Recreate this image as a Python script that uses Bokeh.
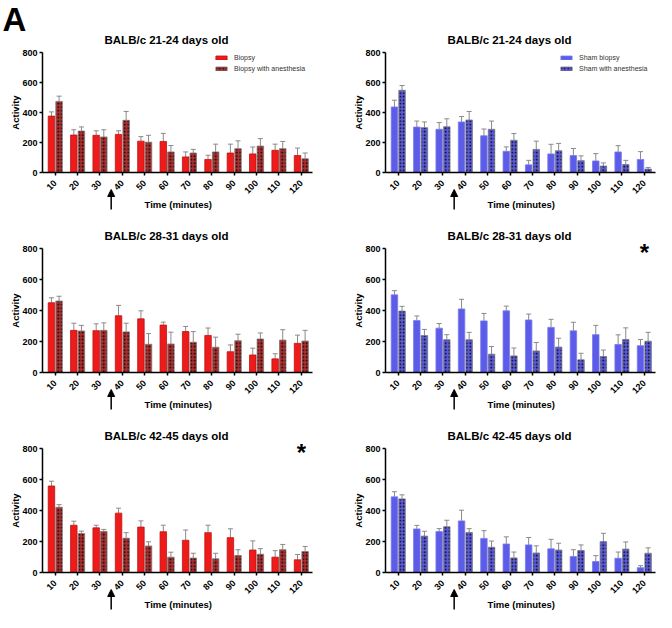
import math
from bokeh.plotting import figure
from bokeh.layouts import column, row
from bokeh.models import (ColumnDataSource, Whisker, TeeHead, Arrow, NormalHead,
                          Label, Legend, LegendItem, FixedTicker, Range1d)
from bokeh.embed import file_html
from bokeh.resources import INLINE

# ---------------- data ----------------
times = [10, 20, 30, 40, 50, 60, 70, 80, 90, 100, 110, 120]
tick_labels = [str(t) for t in times]
y_ticks = [0, 200, 400, 600, 800]
treatment_time = 35  # arrow: between 30 and 40 minutes

# BALB/c 21-24 days old
biopsy_21 = [376, 250, 248, 254, 209, 207, 104, 87, 130, 124, 148, 113]
biopsy_21_err = [28, 35, 30, 24, 30, 54, 33, 28, 59, 46, 41, 50]
biopsy_anes_21 = [474, 276, 237, 348, 202, 137, 130, 137, 159, 176, 159, 91]
biopsy_anes_21_err = [35, 28, 48, 59, 46, 43, 24, 52, 52, 50, 48, 39]
sham_21 = [437, 303, 288, 337, 245, 141, 51, 124, 113, 77, 137, 87]
sham_21_err = [45, 40, 45, 36, 45, 30, 30, 64, 47, 49, 42, 52]
sham_anes_21 = [548, 299, 305, 350, 288, 215, 154, 145, 79, 43, 53, 23]
sham_anes_21_err = [32, 38, 53, 57, 55, 45, 55, 49, 32, 21, 28, 11]

# BALB/c 28-31 days old
biopsy_28 = [450, 272, 270, 366, 346, 306, 264, 239, 134, 113, 88, 188]
biopsy_28_err = [32, 46, 44, 67, 52, 19, 33, 48, 44, 44, 33, 53]
biopsy_anes_28 = [461, 268, 272, 262, 182, 184, 195, 163, 205, 216, 209, 203]
biopsy_anes_28_err = [31, 36, 48, 56, 69, 76, 69, 65, 42, 39, 67, 69]
sham_28 = [501, 335, 286, 410, 333, 398, 339, 291, 269, 244, 181, 173]
sham_28_err = [27, 30, 30, 62, 48, 30, 38, 52, 55, 60, 62, 40]
sham_anes_28 = [396, 238, 211, 211, 118, 107, 139, 164, 82, 103, 213, 202]
sham_anes_28_err = [31, 40, 33, 48, 50, 51, 55, 57, 42, 42, 75, 57]

# BALB/c 42-45 days old
biopsy_42 = [558, 305, 288, 383, 293, 263, 208, 257, 225, 145, 99, 82]
biopsy_42_err = [31, 26, 17, 32, 40, 42, 66, 48, 57, 59, 42, 34]
biopsy_anes_42 = [421, 251, 265, 221, 171, 99, 93, 88, 109, 118, 147, 135]
biopsy_anes_42_err = [17, 16, 13, 36, 27, 32, 31, 36, 38, 36, 34, 33]
sham_42 = [488, 281, 264, 333, 220, 184, 178, 153, 103, 71, 92, 31]
sham_42_err = [33, 23, 19, 69, 50, 46, 48, 61, 44, 38, 40, 13]
sham_anes_42 = [475, 235, 295, 258, 163, 94, 126, 145, 142, 199, 151, 124]
sham_anes_42_err = [26, 31, 42, 25, 40, 38, 46, 44, 36, 54, 46, 35]

# ---------------- styling / geometry ----------------
FONT = "Liberation Sans"
RED = "#ee1b1b"
RED_EDGE = "#c21010"
RED_DARK = "#a83030"
BLUE = "#5c5ce8"
BLUE_EDGE = "#7a7af0"
BLUE_DARK = "#5a5ad8"
ERR = "#8a8a8a"

ROWS = [  # (figure height, px of the 800 line from top, px height of 0..800)
    (222, 52, 120),
    (202, 26, 124),
    (188, 24, 124),
]
COLS = [  # (figure width, px of data-area left edge, data-area width, legend x)
    (328, 42, 270, 214),
    (328, 57, 270, 231),
]
X0, X1 = -0.57, 11.5


def make_panel(title, v1, e1, v2, e2, fill, edge, dark, legend_labels,
               row_i, col_i, star=False, big_letter=None):
    H, top800, fh = ROWS[row_i]
    W, dl, fw, leg_x = COLS[col_i]
    ppu = fh / 800.0
    ppx = fw / (X1 - X0)
    y0px = top800 + fh                       # px of the 0 line from top
    x_range = Range1d(X0 - dl / ppx, X1 + (W - dl - fw) / ppx)
    y_range = Range1d(-(H - y0px) / ppu, 800 + top800 / ppu)
    p = figure(width=W, height=H, min_border=0,
               x_range=x_range, y_range=y_range,
               output_backend="svg", toolbar_location=None, title=None)
    p.outline_line_color = None
    p.xgrid.visible = False
    p.ygrid.visible = False

    idx = list(range(len(times)))
    off = 0.17
    src = ColumnDataSource(dict(
        xa=[i - off for i in idx], xb=[i + off for i in idx],
        a=v1, a_up=[v + e for v, e in zip(v1, e1)],
        b=v2, b_up=[v + e for v, e in zip(v2, e2)],
    ))
    r1 = p.vbar(x="xa", top="a", width=0.29, source=src,
                fill_color=fill, line_color=edge, line_width=0.8)
    r2 = p.vbar(x="xb", top="b", width=0.29, source=src,
                fill_color=dark, line_color="#7a7a7a", line_width=0.8,
                hatch_pattern="dot", hatch_color="black",
                hatch_scale=3.5, hatch_weight=1.6)
    for base, lo, up in (("xa", "a", "a_up"), ("xb", "b", "b_up")):
        p.add_layout(Whisker(source=src, base=base, lower=lo, upper=up,
                             dimension="height", line_color=ERR, line_width=1,
                             lower_head=None,
                             upper_head=TeeHead(size=5, line_color=ERR, line_width=1)))

    # axes drawn at fixed data locations
    p.xaxis.fixed_location = 0
    p.xaxis.bounds = (X0, X1)
    p.yaxis.fixed_location = X0
    p.yaxis.bounds = (0, 800)
    p.xaxis.ticker = FixedTicker(ticks=idx)
    p.xaxis.major_label_overrides = {i: lab for i, lab in zip(idx, tick_labels)}
    p.xaxis.major_label_orientation = math.pi / 4
    p.yaxis.ticker = FixedTicker(ticks=y_ticks)
    for ax in (p.xaxis, p.yaxis):
        ax.axis_line_width = 1.5
        ax.axis_line_color = "black"
        ax.major_tick_line_width = 1.5
        ax.major_tick_line_color = "black"
        ax.major_tick_out = 3
        ax.major_tick_in = 0
        ax.minor_tick_line_color = None
        ax.major_label_text_font = FONT
        ax.major_label_text_font_style = "bold"
        ax.major_label_text_font_size = "9px"
        ax.major_label_text_color = "black"
    p.xaxis.major_label_standoff = 6
    p.yaxis.major_label_standoff = 2

    # title, axis titles
    p.add_layout(Label(x=X0 + 62 / ppx, y=800, y_offset=13, text=title,
                       text_font=FONT, text_font_size="11.5px",
                       text_font_style="bold", text_color="black",
                       text_align="left", text_baseline="alphabetic"))
    p.add_layout(Label(x=(idx[0] + idx[-1]) / 2, y=0, y_offset=-32,
                       text="Time (minutes)", text_font=FONT,
                       text_font_size="9.5px", text_font_style="bold",
                       text_color="black", text_align="center",
                       text_baseline="middle"))
    p.add_layout(Label(x=X0 - 27 / ppx, y=400, text="Activity", angle=math.pi / 2,
                       text_font=FONT, text_font_size="9.5px",
                       text_font_style="bold", text_color="black",
                       text_align="center", text_baseline="middle"))

    # treatment arrow below the axis
    i30 = times.index(30)
    ax_x = i30 + (treatment_time - times[i30]) / (times[i30 + 1] - times[i30])
    p.add_layout(Arrow(end=NormalHead(size=7, fill_color="black", line_color="black"),
                       x_start=ax_x, y_start=-37 / ppu, x_end=ax_x, y_end=-17 / ppu,
                       line_color="black", line_width=1.5))

    if legend_labels:
        leg_h = 20
        leg = Legend(items=[LegendItem(label=legend_labels[0], renderers=[r1]),
                            LegendItem(label=legend_labels[1], renderers=[r2])],
                     location=(leg_x, H - top800 - leg_h), padding=1, spacing=4,
                     label_text_font=FONT, label_text_font_size="7px",
                     label_text_color="#333333", glyph_width=14, glyph_height=5,
                     label_height=7, label_standoff=6,
                     border_line_color=None, background_fill_alpha=0)
        p.add_layout(leg)

    if star:
        p.add_layout(Label(x=idx[-1], y=800, text="*", text_font=FONT,
                           text_font_size="24px", text_font_style="bold",
                           text_color="black", text_align="center",
                           text_baseline="middle", y_offset=-4))
    if big_letter:
        p.add_layout(Label(x=X0 - (dl - 2) / ppx, y=800 + top800 / ppu,
                           text=big_letter, text_font=FONT, text_font_size="33px",
                           text_font_style="bold", text_color="black",
                           text_align="left", text_baseline="top"))
    return p


p1 = make_panel("BALB/c 21-24 days old", biopsy_21, biopsy_21_err, biopsy_anes_21,
                biopsy_anes_21_err, RED, RED_EDGE, RED_DARK,
                ("Biopsy", "Biopsy with anesthesia"), 0, 0, big_letter="A")
p2 = make_panel("BALB/c 21-24 days old", sham_21, sham_21_err, sham_anes_21,
                sham_anes_21_err, BLUE, BLUE_EDGE, BLUE_DARK,
                ("Sham biopsy", "Sham with anesthesia"), 0, 1)
p3 = make_panel("BALB/c 28-31 days old", biopsy_28, biopsy_28_err, biopsy_anes_28,
                biopsy_anes_28_err, RED, RED_EDGE, RED_DARK, None, 1, 0)
p4 = make_panel("BALB/c 28-31 days old", sham_28, sham_28_err, sham_anes_28,
                sham_anes_28_err, BLUE, BLUE_EDGE, BLUE_DARK, None, 1, 1, star=True)
p5 = make_panel("BALB/c 42-45 days old", biopsy_42, biopsy_42_err, biopsy_anes_42,
                biopsy_anes_42_err, RED, RED_EDGE, RED_DARK, None, 2, 0, star=True)
p6 = make_panel("BALB/c 42-45 days old", sham_42, sham_42_err, sham_anes_42,
                sham_anes_42_err, BLUE, BLUE_EDGE, BLUE_DARK, None, 2, 1)

layout = column(row(p1, p2), row(p3, p4), row(p5, p6))
open("out.html", "w").write(file_html(layout, INLINE))
